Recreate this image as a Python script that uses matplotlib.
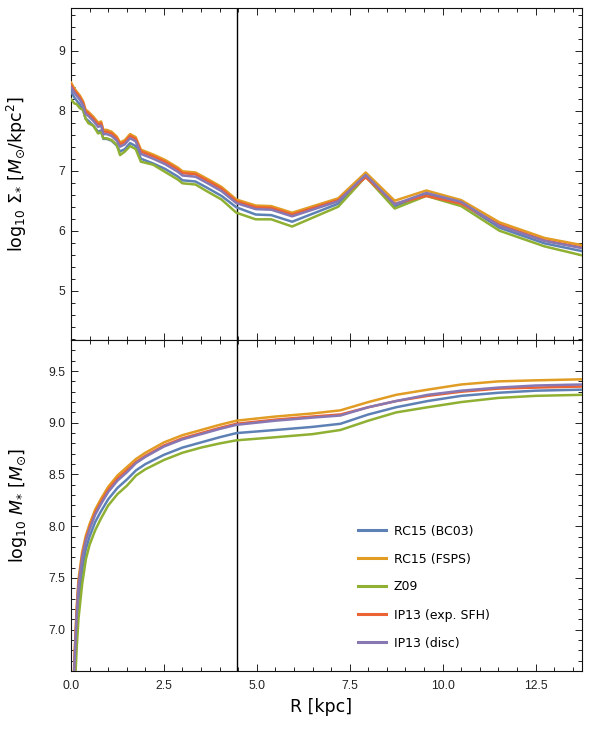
import matplotlib
matplotlib.use("Agg")
import matplotlib.pyplot as plt
from matplotlib.ticker import MultipleLocator, FixedLocator

# ---------------- data ----------------
series_names = ["RC15 (BC03)", "RC15 (FSPS)", "Z09", "IP13 (exp. SFH)", "IP13 (disc)"]
series_colors = ["#5E81B5", "#E19C24", "#8FB032", "#EB6235", "#8778B3"]

R_sigma = [0.00, 0.09, 0.15, 0.24, 0.33, 0.39, 0.47, 0.60, 0.73, 0.81, 0.87, 0.96,
           1.09, 1.23, 1.32, 1.45, 1.59, 1.74, 1.88, 2.21, 2.53, 2.88, 3.00, 3.35,
           3.65, 4.05, 4.45, 4.97, 5.39, 5.95, 7.19, 7.93, 8.71, 9.56, 10.50, 11.53,
           12.74, 13.75]

sigma_bc03 = [8.32, 8.22, 8.17, 8.10, 8.00, 7.87, 7.83, 7.75, 7.65, 7.67, 7.53, 7.53,
              7.50, 7.42, 7.32, 7.36, 7.46, 7.41, 7.20, 7.12, 7.03, 6.90, 6.84, 6.82,
              6.72, 6.58, 6.39, 6.27, 6.26, 6.15, 6.45, 6.92, 6.41, 6.61, 6.46, 6.05,
              5.79, 5.66]
sigma_fsps = [8.47, 8.37, 8.32, 8.25, 8.15, 8.02, 7.98, 7.90, 7.80, 7.82, 7.68, 7.68,
              7.65, 7.57, 7.47, 7.51, 7.61, 7.56, 7.35, 7.27, 7.18, 7.05, 6.99, 6.97,
              6.87, 6.73, 6.52, 6.42, 6.41, 6.30, 6.54, 6.97, 6.50, 6.67, 6.51, 6.14,
              5.88, 5.76]
sigma_z09 = [8.19, 8.12, 8.11, 8.04, 8.01, 7.87, 7.79, 7.75, 7.62, 7.64, 7.54, 7.54,
             7.51, 7.43, 7.26, 7.32, 7.41, 7.36, 7.15, 7.10, 6.98, 6.85, 6.79, 6.77,
             6.66, 6.52, 6.30, 6.19, 6.19, 6.07, 6.40, 6.90, 6.37, 6.58, 6.41, 6.00,
             5.74, 5.59]
sigma_ip13exp = [8.43, 8.34, 8.29, 8.22, 8.12, 7.99, 7.95, 7.87, 7.77, 7.79, 7.65, 7.65,
                 7.62, 7.54, 7.44, 7.48, 7.58, 7.53, 7.32, 7.24, 7.15, 7.02, 6.96, 6.94,
                 6.84, 6.70, 6.49, 6.39, 6.38, 6.27, 6.51, 6.89, 6.45, 6.58, 6.45, 6.10,
                 5.84, 5.72]
sigma_ip13disc = [8.39, 8.30, 8.25, 8.18, 8.08, 7.95, 7.91, 7.83, 7.73, 7.75, 7.61, 7.61,
                  7.58, 7.50, 7.40, 7.44, 7.54, 7.49, 7.28, 7.20, 7.11, 6.98, 6.92, 6.90,
                  6.80, 6.66, 6.46, 6.36, 6.35, 6.24, 6.49, 6.93, 6.44, 6.63, 6.48, 6.08,
                  5.83, 5.71]

R_mass = [0.07, 0.10, 0.15, 0.20, 0.30, 0.40, 0.50, 0.65, 0.80, 1.00, 1.25, 1.50,
          1.75, 2.00, 2.50, 3.00, 3.50, 4.00, 4.45, 5.50, 6.50, 7.25, 8.00, 8.75,
          9.60, 10.50, 11.50, 12.50, 13.75]

mass_bc03 = [6.25, 6.55, 6.98, 7.28, 7.58, 7.78, 7.90, 8.04, 8.14, 8.26, 8.37, 8.45,
             8.54, 8.60, 8.69, 8.76, 8.81, 8.86, 8.90, 8.93, 8.96, 8.99, 9.08, 9.15,
             9.21, 9.26, 9.29, 9.31, 9.32]
mass_fsps = [6.50, 6.80, 7.20, 7.48, 7.75, 7.91, 8.02, 8.16, 8.26, 8.38, 8.49, 8.57,
             8.65, 8.71, 8.81, 8.88, 8.93, 8.98, 9.02, 9.06, 9.09, 9.12, 9.20, 9.27,
             9.32, 9.37, 9.40, 9.41, 9.42]
mass_z09 = [6.10, 6.40, 6.80, 7.10, 7.44, 7.68, 7.82, 7.96, 8.07, 8.20, 8.31, 8.39,
            8.49, 8.55, 8.64, 8.71, 8.76, 8.80, 8.83, 8.86, 8.89, 8.93, 9.02, 9.10,
            9.15, 9.20, 9.24, 9.26, 9.27]
mass_ip13exp = [6.46, 6.76, 7.16, 7.44, 7.71, 7.88, 7.99, 8.13, 8.23, 8.35, 8.46, 8.54,
                8.62, 8.68, 8.78, 8.85, 8.90, 8.95, 8.99, 9.03, 9.06, 9.08, 9.15, 9.21,
                9.26, 9.30, 9.33, 9.34, 9.35]
mass_ip13disc = [6.42, 6.72, 7.12, 7.41, 7.69, 7.86, 7.97, 8.11, 8.21, 8.33, 8.44, 8.52,
                 8.61, 8.67, 8.77, 8.84, 8.89, 8.94, 8.98, 9.02, 9.05, 9.07, 9.15, 9.21,
                 9.27, 9.31, 9.34, 9.36, 9.37]

R_mark = 4.46

sigma_all = [sigma_bc03, sigma_fsps, sigma_z09, sigma_ip13exp, sigma_ip13disc]
mass_all = [mass_bc03, mass_fsps, mass_z09, mass_ip13exp, mass_ip13disc]

# ---------------- figure ----------------
W, H = 595, 729
fig = plt.figure(figsize=(W / 100, H / 100), dpi=100)
L, Rr = 71 / W, 582 / W
ax1 = fig.add_axes([L, 1 - 340 / H, Rr - L, (340 - 8) / H])
ax2 = fig.add_axes([L, 1 - 671 / H, Rr - L, (671 - 340) / H])

tickfont = dict(family="Liberation Sans", size=8.8)
for ax in (ax1, ax2):
    ax.set_xlim(0, 13.75)
    ax.xaxis.set_major_locator(MultipleLocator(2.5))
    ax.xaxis.set_minor_locator(MultipleLocator(0.5))
    ax.tick_params(which="both", direction="in", top=True, right=True,
                   colors="#222222", width=0.7)
    ax.tick_params(axis="y", pad=4)
    ax.tick_params(axis="x", pad=6.5)
    ax.tick_params(which="major", length=5)
    ax.tick_params(which="minor", length=2.8)
    for s in ax.spines.values():
        s.set_linewidth(0.8)
        s.set_color("#111111")
    ax.axvline(R_mark, color="black", lw=1.0, zorder=1)

for vals, c, n in zip(sigma_all, series_colors, series_names):
    ax1.plot(R_sigma, vals, color=c, lw=1.8, label=n, zorder=3)
for vals, c, n in zip(mass_all, series_colors, series_names):
    ax2.plot(R_mass, vals, color=c, lw=1.8, label=n, zorder=3)

ax1.set_ylim(4.18, 9.71)
ax1.yaxis.set_major_locator(FixedLocator([5, 6, 7, 8, 9]))
ax1.yaxis.set_minor_locator(MultipleLocator(0.2))
ax1.set_yticklabels(["5", "6", "7", "8", "9"], **tickfont)
ax1.tick_params(axis="x", labelbottom=False)

ax2.set_ylim(6.60, 9.80)
ax2.yaxis.set_major_locator(FixedLocator([7.0, 7.5, 8.0, 8.5, 9.0, 9.5]))
ax2.yaxis.set_minor_locator(MultipleLocator(0.1))
ax2.set_yticklabels(["7.0", "7.5", "8.0", "8.5", "9.0", "9.5"], **tickfont)
ax2.set_xticks([0, 2.5, 5, 7.5, 10, 12.5])
ax2.set_xticklabels(["0.0", "2.5", "5.0", "7.5", "10.0", "12.5"], **tickfont)

labfont = dict(family="DejaVu Sans", size=12.5)
ax1.set_ylabel(r"log$_{10}$ $\Sigma_{*}$ [$M_{\odot}$/kpc$^{2}$]", **labfont)
ax2.set_ylabel(r"log$_{10}$ $M_{*}$ [$M_{\odot}$]", **labfont)
ax1.yaxis.set_label_coords(-0.082, 0.5)
ax2.yaxis.set_label_coords(-0.082, 0.5)
ax2.set_xlabel("R [kpc]", **labfont)
ax2.xaxis.set_label_coords(0.49, -0.082)

leg = ax2.legend(loc="center left", bbox_to_anchor=((358 - 71) / 511, (671 - 587) / 331),
                 frameon=False, prop=dict(family="DejaVu Sans", size=9),
                 handlelength=2.2, handletextpad=0.65, labelspacing=1.2,
                 borderpad=0, borderaxespad=0)
for line in leg.get_lines():
    line.set_linewidth(2.2)

fig.savefig("out.png", dpi=100)
